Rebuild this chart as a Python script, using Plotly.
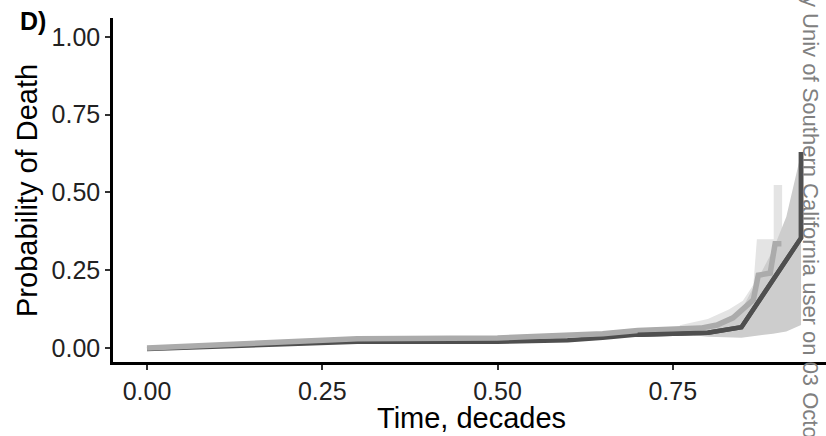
import plotly.graph_objects as go

# ---- data ----
dark_t = [0.0, 0.30, 0.50, 0.60, 0.65, 0.70, 0.80, 0.848, 0.933, 0.933]
dark_p = [-0.003, 0.020, 0.020, 0.025, 0.033, 0.043, 0.049, 0.067, 0.354, 0.630]

mid_t = [0.0, 0.30, 0.50, 0.65, 0.70, 0.79, 0.813, 0.836, 0.865, 0.872, 0.889, 0.896, 0.905]
mid_p = [0.0, 0.030, 0.032, 0.046, 0.056, 0.064, 0.074, 0.097, 0.155, 0.234, 0.241, 0.335, 0.335]

light_band_t = [0.76, 0.80, 0.83, 0.85, 0.865, 0.870, 0.894, 0.894, 0.906]
light_band_hi = [0.073, 0.093, 0.124, 0.152, 0.203, 0.350, 0.350, 0.524, 0.524]
light_band_lo = [0.056, 0.059, 0.066, 0.081, 0.102, 0.112, 0.122, 0.122, 0.122]

grey_band_t = [0.78, 0.80, 0.848, 0.893, 0.912, 0.933]
grey_band_hi = [0.051, 0.061, 0.122, 0.315, 0.422, 0.625]
grey_band_lo = [0.041, 0.036, 0.033, 0.046, 0.053, 0.074]

x_ticks = [0.0, 0.25, 0.5, 0.75]
x_ticklabels = ["0.00", "0.25", "0.50", "0.75"]
y_ticks = [0.0, 0.25, 0.5, 0.75, 1.0]
y_ticklabels = ["0.00", "0.25", "0.50", "0.75", "1.00"]

W, H = 826, 436
L, R, T, B = 113, 0, 18, 74

fig = go.Figure()

def band(t, lo, hi, color):
    return go.Scatter(x=list(t) + list(t)[::-1], y=list(hi) + list(lo)[::-1],
                      fill="toself", fillcolor=color, mode="lines",
                      line=dict(width=0), hoverinfo="skip", showlegend=False)

fig.add_trace(band(light_band_t, light_band_lo, light_band_hi, "#e4e4e4"))
fig.add_trace(band(grey_band_t, grey_band_lo, grey_band_hi, "#cdcdcd"))
fig.add_trace(go.Scatter(x=dark_t, y=dark_p, mode="lines",
                         line=dict(color="#4f4f4f", width=4.5), showlegend=False))
fig.add_trace(go.Scatter(x=mid_t, y=mid_p, mode="lines",
                         line=dict(color="#ababab", width=5.5), showlegend=False))
# dark line re-drawn on top in the right part
fig.add_trace(go.Scatter(x=dark_t[5:], y=dark_p[5:], mode="lines",
                         line=dict(color="#4f4f4f", width=4.5), showlegend=False))

font = "Liberation Sans, Arial, sans-serif"
axis_common = dict(showgrid=False, zeroline=False, showline=True, linecolor="black",
                   linewidth=2.5, ticks="outside", ticklen=5, tickwidth=2,
                   tickcolor="#333333", tickfont=dict(family=font, size=25, color="#222222"),
                   ticklabelstandoff=0)

fig.update_layout(
    width=W, height=H,
    margin=dict(l=L, r=R, t=T, b=B),
    paper_bgcolor="white", plot_bgcolor="white",
    xaxis=dict(range=[-0.0485, 0.9686], tickvals=x_ticks, ticktext=x_ticklabels, **axis_common),
    yaxis=dict(range=[-0.045, 1.061], tickvals=y_ticks, ticktext=y_ticklabels, **axis_common),
)

pw, ph = W - L - R, H - T - B
def px(x): return (x - L) / pw
def py(y): return (H - B - y) / ph

fig.add_annotation(x=px(27), y=py(191), xref="paper", yref="paper",
                   text="Probability of Death", textangle=-90, showarrow=False,
                   font=dict(family=font, size=29, color="black"),
                   xanchor="center", yanchor="middle")
fig.add_annotation(x=px(471), y=py(418), xref="paper", yref="paper",
                   text="Time, decades", showarrow=False,
                   font=dict(family=font, size=29, color="black"),
                   xanchor="center", yanchor="middle")
fig.add_annotation(x=px(33), y=py(21), xref="paper", yref="paper",
                   text="<b>D)</b>", showarrow=False,
                   font=dict(family=font, size=25, color="black"),
                   xanchor="center", yanchor="middle")
fig.add_annotation(x=px(810), y=py(223), xref="paper", yref="paper",
                   text="y Univ of Southern California user on 03 Octob", textangle=90,
                   showarrow=False, font=dict(family=font, size=22, color="#808080"),
                   xanchor="center", yanchor="middle")

fig.write_html("out.html", config={"displayModeBar": False},
               post_script="document.body.style.margin='0';document.body.style.padding='0';document.body.style.overflow='hidden';")
